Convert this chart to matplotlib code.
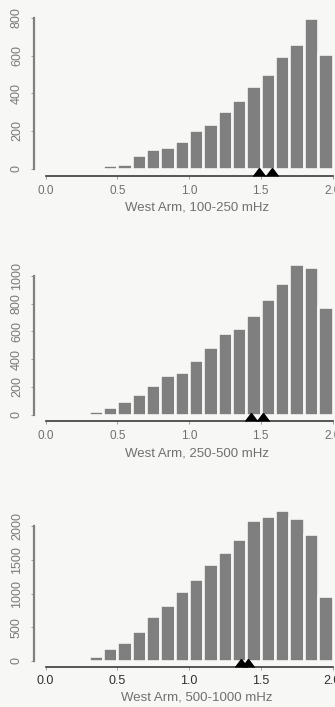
import numpy as np
import matplotlib.pyplot as plt

# histogram bins: 0.0 .. 2.0 in steps of 0.1
bin_edges = np.round(np.arange(0.0, 2.0, 0.1), 2)

counts_100_250 = [0, 0, 0, 8, 21, 25, 71, 103, 114, 144, 204, 238, 306, 364,
                  437, 503, 596, 663, 800, 606]
counts_250_500 = [0, 0, 4, 22, 53, 94, 145, 215, 287, 307, 391, 488, 589, 626,
                  715, 836, 952, 1087, 1068, 773]
counts_500_1000 = [0, 0, 3, 75, 199, 284, 443, 667, 831, 1040, 1214, 1438, 1617,
                   1806, 2085, 2149, 2234, 2114, 1876, 970]

markers_100_250 = [1.49, 1.58]
markers_250_500 = [1.43, 1.515]
markers_500_1000 = [1.365, 1.41]

labels = ["West Arm, 100-250 mHz", "West Arm, 250-500 mHz", "West Arm, 500-1000 mHz"]
yticks_list = [[0, 200, 400, 600, 800],
               [0, 200, 400, 600, 800, 1000],
               [0, 500, 1000, 1500, 2000]]
xticks = [0.0, 0.5, 1.0, 1.5, 2.0]
xtick_labels = ["0.0", "0.5", "1.0", "1.5", "2.0"]

W, H = 335, 707
BG = "#f7f7f6"
BAR = "#7f7f7f"
TXT = "#707070"
plt.rcParams['font.family'] = ['Liberation Sans', 'DejaVu Sans']

fig = plt.figure(figsize=(W / 100, H / 100), dpi=100, facecolor=BG)

# pixel layout per panel: row of y=0, row of top tick, row of x axis line,
# x tick label pad, x label row
layout = [
    dict(y0=168.5, ytop=18, axis=175.5, tick_pad=4.5, xlab=207, tfs=8.5, tcol=TXT),
    dict(y0=414.5, ytop=276, axis=421, tick_pad=4.5, xlab=453, tfs=8.5, tcol=TXT),
    dict(y0=661, ytop=526, axis=667, tick_pad=3.5, xlab=697, tfs=9, tcol="#303030"),
]
all_counts = [counts_100_250, counts_250_500, counts_500_1000]
all_marks = [markers_100_250, markers_250_500, markers_500_1000]

x_lo, x_hi = -0.08, 2.08
px_per_unit = 143.5
left_px = 45.5 - 0.08 * px_per_unit
width_px = (x_hi - x_lo) * px_per_unit

for counts, marks, lab, yt, lay in zip(all_counts, all_marks, labels, yticks_list, layout):
    ppu = (lay['y0'] - lay['ytop']) / yt[-1]
    ylo = -(lay['axis'] - lay['y0']) / ppu
    yhi = max(counts) * 1.06
    height_px = (yhi - ylo) * ppu
    ax = fig.add_axes([left_px / W, 1 - lay['axis'] / H, width_px / W, height_px / H])
    ax.patch.set_alpha(0)

    ax.bar(bin_edges, counts, width=0.1, align='edge', color=BAR,
           edgecolor=BG, linewidth=1.9)
    ax.plot(marks, [ylo] * len(marks), linestyle='None', marker=10,
            markersize=8, color='black', clip_on=False, zorder=4)

    ax.set_xlim(x_lo, x_hi)
    ax.set_ylim(ylo, yhi)

    for s in ['top', 'right']:
        ax.spines[s].set_visible(False)
    ax.spines['bottom'].set_bounds(0, 2.0)
    ax.spines['bottom'].set_color('#3a3a3a')
    ax.spines['bottom'].set_linewidth(1.2)
    ax.spines['left'].set_bounds(0, yt[-1])
    ax.spines['left'].set_color('#808080')
    ax.spines['left'].set_linewidth(1.6)

    ax.set_xticks(xticks)
    ax.set_xticklabels(xtick_labels)
    ax.set_yticks(yt)
    ax.set_yticklabels([str(v) for v in yt], rotation=90, va='center')
    ax.tick_params(axis='x', length=2, width=0.6, color='#909090',
                   labelsize=lay['tfs'], labelcolor=lay['tcol'], pad=lay['tick_pad'])
    ax.tick_params(axis='y', length=2, width=0.6, color='#909090',
                   labelsize=9, labelcolor='#7a7a7a', pad=6)

    fig.text(197 / W, 1 - lay['xlab'] / H, lab, ha='center', va='center',
             fontsize=9.5, color=TXT)

fig.savefig("out.png", dpi=100, facecolor=BG)
